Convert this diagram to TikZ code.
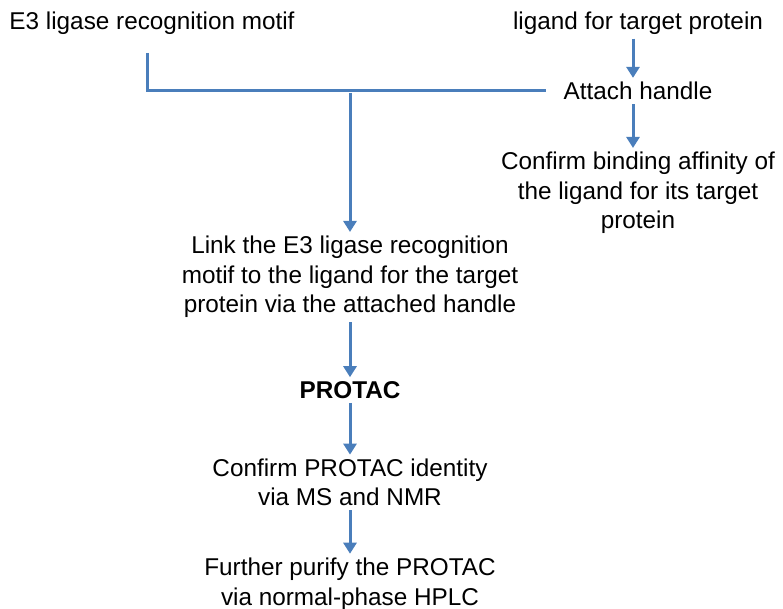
\documentclass[tikz,border=0pt]{standalone}
\usepackage{fontspec}
\setmainfont{Liberation Sans}
\usetikzlibrary{arrows.meta,positioning}
\definecolor{flowblue}{HTML}{4A7EBB}

\begin{document}
\begin{tikzpicture}[x=1pt,y=-1pt]
	\tikzset{step text/.style={align=center,inner sep=4pt,font=\fontsize{24.3}{29.5}\selectfont}}
	\tikzset{flow line/.style={draw=flowblue,line width=3pt}}
	\tikzset{flow arrow/.style={flow line,-{Triangle[width=13pt,length=11pt]}}}
	\useasboundingbox (0,0) rectangle (783,609);
	% left and right starting points
	\node[step text] (e3) at (152,23) {E3 ligase recognition motif};
	\node[step text] (ligand) at (638,23) {ligand for target protein};
	\node[step text] (handle) at (638,91) {Attach handle};
	\node[step text] (affinity) at (638,193) {Confirm binding affinity of\\the ligand for its target\\protein};
	% main column
	\node[step text] (link) at (350,277) {Link the E3 ligase recognition\\motif to the ligand for the target\\protein via the attached handle};
	\node[step text,font=\fontsize{24.3}{29.5}\selectfont\bfseries] (protac) at (350,390) {PROTAC};
	\node[step text] (identity) at (350,482.5) {Confirm PROTAC identity\\via MS and NMR};
	\node[step text] (purify) at (350,584) {Further purify the PROTAC\\via normal-phase HPLC};
	\coordinate (bend) at (147,53);
	\coordinate (join) at (350,93);
	% connectors
	\draw[flow line] (bend) |- ([xshift=-14pt]handle.west);
	\draw[flow arrow] (join) -- (link.north);
	\draw[flow arrow] ([xshift=-5pt]ligand.south) -- ([xshift=-5pt]handle.north);
	\draw[flow arrow] ([xshift=-5pt]handle.south) -- ([xshift=-5pt]affinity.north);
	\draw[flow arrow] (link) -- (protac);
	\draw[flow arrow] (protac) -- (identity);
	\draw[flow arrow] (identity) -- (purify);
\end{tikzpicture}
\end{document}
